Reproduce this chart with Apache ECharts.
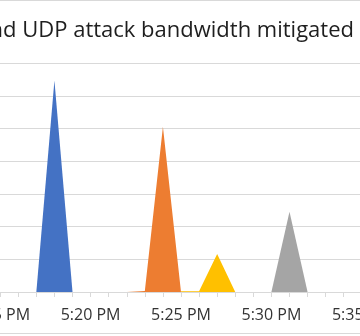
<!DOCTYPE html>
<html>
<head>
<meta charset="utf-8">
<script src="https://cdn.jsdelivr.net/npm/echarts@6/dist/echarts.min.js"></script>
<style>html,body{margin:0;padding:0;background:#fff;}#c{width:360px;height:336px;}</style>
</head>
<body>
<div id="c"></div>
<script>
var titleText = 'Inbound UDP attack bandwidth mitigated';
var categories = ['5:14 PM','5:15 PM','5:16 PM','5:17 PM','5:18 PM','5:19 PM','5:20 PM','5:21 PM','5:22 PM','5:23 PM','5:24 PM','5:25 PM','5:26 PM','5:27 PM','5:28 PM','5:29 PM','5:30 PM','5:31 PM','5:32 PM','5:33 PM','5:34 PM','5:35 PM','5:36 PM'];
var labeledTicks = ['5:15 PM','5:20 PM','5:25 PM','5:30 PM','5:35 PM'];
var seriesBlue   = [null,null,null,0,64.7,0,null,null,null,null,null,null,null,null,null,null,null,null,null,null,null,null,null];
var seriesOrange = [null,null,null,null,null,null,null,null,0,0.3,50.6,0,null,null,null,null,null,null,null,null,null,null,null];
var seriesYellow = [null,null,null,null,null,null,null,null,null,null,null,0.2,0.2,11.6,0,null,null,null,null,null,null,null,null];
var seriesGray   = [null,null,null,null,null,null,null,null,null,null,null,null,null,null,null,null,0,24.6,0,null,null,null,null];
var seriesNames = ['Series A','Series B','Series C','Series D'];
var colors = ['#4472C4','#ED7D31','#FFC000','#A5A5A5'];
var yMax = 70, yInterval = 10;

var chart = echarts.init(document.getElementById('c'), null, {renderer:'canvas'});
function areaSeries(name, data, color){
  return {name:name, type:'line', data:data, symbol:'none', smooth:false, connectNulls:false,
    lineStyle:{width:0, color:color}, itemStyle:{color:color},
    areaStyle:{color:color, opacity:1}, animation:false};
}
chart.setOption({
  animation:false,
  title:{text:titleText, right:6, top:19.5, padding:0,
    textStyle:{fontFamily:'Open Sans', fontSize:22, fontWeight:'normal', color:'#1e1e1e'}},
  graphic:[{type:'rect', shape:{x:-10, y:0.5, width:380, height:333}, style:{fill:'none', stroke:'#d9d9d9', lineWidth:1}, silent:true, z:-1}],
  grid:{left:-17.9, width:397.8, top:63.3, bottom:44, outerBoundsMode:'none', containLabel:false},
  xAxis:{type:'category', data:categories, boundaryGap:false,
    axisLine:{lineStyle:{color:'#d9d9d9', width:1}},
    axisTick:{show:true, interval:0, length:5, lineStyle:{color:'#d9d9d9'}},
    axisLabel:{interval:0, margin:15, fontFamily:'Open Sans', fontSize:16, color:'#333',
      formatter:function(v){ return labeledTicks.indexOf(v) >= 0 ? v : ''; }},
    splitLine:{show:false}},
  yAxis:{type:'value', min:0, max:yMax, interval:yInterval,
    axisLabel:{show:false}, axisLine:{show:false}, axisTick:{show:false},
    splitLine:{lineStyle:{color:'#d9d9d9', width:1}}},
  series:[areaSeries(seriesNames[0], seriesBlue, colors[0]), areaSeries(seriesNames[1], seriesOrange, colors[1]),
          areaSeries(seriesNames[2], seriesYellow, colors[2]), areaSeries(seriesNames[3], seriesGray, colors[3])]
});
</script>
</body>
</html>
